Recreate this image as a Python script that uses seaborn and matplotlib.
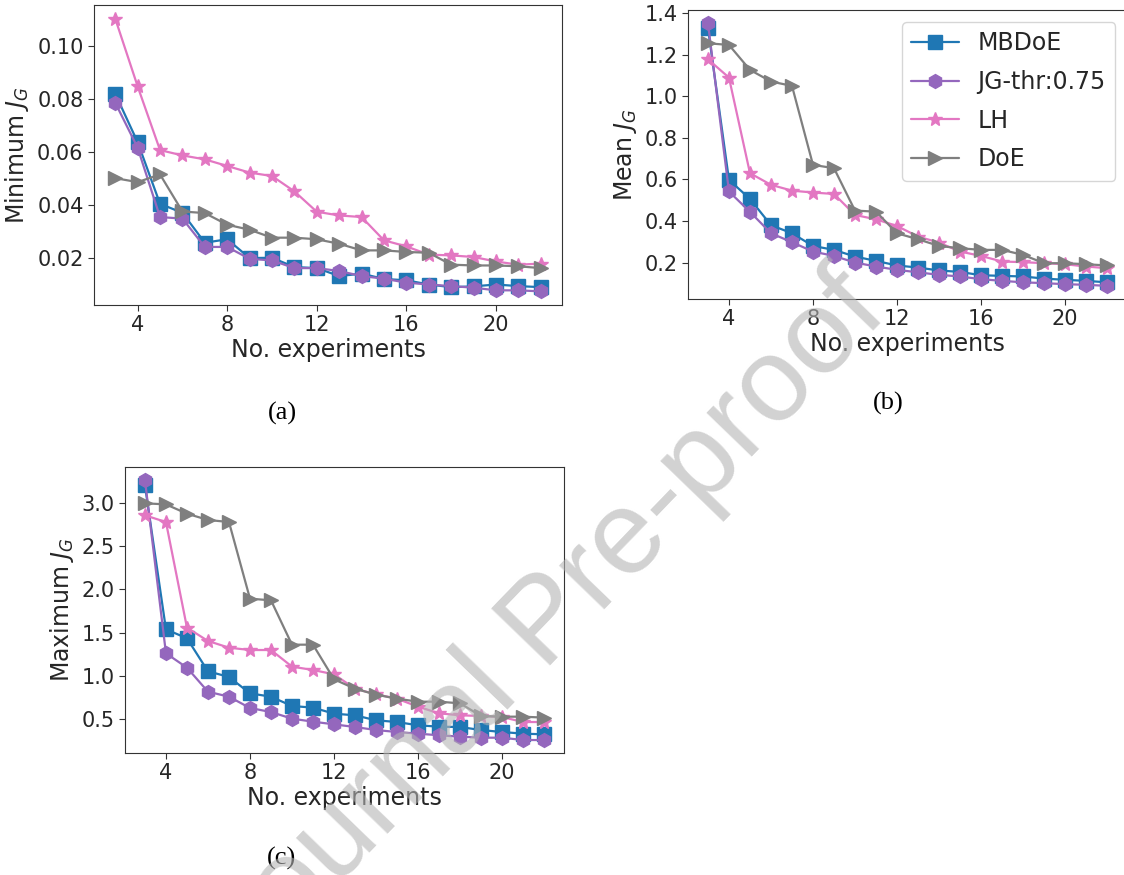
import matplotlib
matplotlib.use('Agg')
import matplotlib.pyplot as plt
from matplotlib.ticker import MultipleLocator
import seaborn as sns
import pandas as pd

# Number of experiments (x axis)
n_exp = [3, 4, 5, 6, 7, 8, 9, 10, 11, 12, 13, 14, 15, 16, 17, 18, 19, 20, 21, 22]

methods = ['MBDoE', 'JG-thr:0.75', 'LH', 'DoE']
colors = ['#1f77b4', '#9467bd', '#e377c2', '#7f7f7f']
markers = ['s', 'h', '*', '>']

# (a) Minimum J_G
min_mbdoe = [0.0821, 0.0638, 0.0405, 0.0371, 0.0258, 0.0271, 0.0200, 0.0201, 0.0166, 0.0162,
             0.0132, 0.0141, 0.0121, 0.0116, 0.0100, 0.0090, 0.0093, 0.0100, 0.0094, 0.0090]
min_jg = [0.0787, 0.0617, 0.0355, 0.0349, 0.0242, 0.0242, 0.0197, 0.0191, 0.0162, 0.0162,
          0.0151, 0.0132, 0.0122, 0.0107, 0.0100, 0.0094, 0.0088, 0.0078, 0.0078, 0.0074]
min_lh = [0.1105, 0.0849, 0.0608, 0.0588, 0.0573, 0.0548, 0.0523, 0.0510, 0.0452, 0.0375,
          0.0361, 0.0355, 0.0267, 0.0244, 0.0213, 0.0210, 0.0204, 0.0187, 0.0175, 0.0179]
min_doe = [0.0502, 0.0487, 0.0516, 0.0376, 0.0370, 0.0326, 0.0307, 0.0277, 0.0277, 0.0271,
           0.0254, 0.0229, 0.0229, 0.0223, 0.0220, 0.0175, 0.0172, 0.0172, 0.0169, 0.0162]

# (b) Mean J_G
mean_mbdoe = [1.328, 0.598, 0.506, 0.380, 0.341, 0.280, 0.261, 0.229, 0.208, 0.186,
              0.176, 0.162, 0.155, 0.139, 0.136, 0.133, 0.123, 0.117, 0.112, 0.105]
mean_jg = [1.352, 0.542, 0.444, 0.341, 0.298, 0.253, 0.232, 0.200, 0.181, 0.165,
           0.153, 0.141, 0.133, 0.120, 0.112, 0.105, 0.101, 0.096, 0.093, 0.088]
mean_lh = [1.178, 1.090, 0.630, 0.574, 0.546, 0.537, 0.530, 0.429, 0.408, 0.376,
           0.325, 0.296, 0.253, 0.232, 0.205, 0.202, 0.197, 0.192, 0.181, 0.173]
mean_doe = [1.255, 1.247, 1.127, 1.071, 1.050, 0.670, 0.654, 0.450, 0.445, 0.341,
            0.312, 0.280, 0.269, 0.261, 0.261, 0.237, 0.197, 0.197, 0.192, 0.186]

# (c) Maximum J_G
max_mbdoe = [3.209, 1.537, 1.433, 1.050, 0.984, 0.794, 0.755, 0.647, 0.628, 0.558,
             0.539, 0.481, 0.461, 0.423, 0.407, 0.403, 0.368, 0.345, 0.326, 0.318]
max_jg = [3.271, 1.259, 1.092, 0.813, 0.755, 0.624, 0.577, 0.500, 0.465, 0.434,
          0.403, 0.368, 0.345, 0.326, 0.307, 0.291, 0.279, 0.279, 0.252, 0.252]
max_lh = [2.861, 2.783, 1.557, 1.402, 1.324, 1.297, 1.297, 1.104, 1.065, 1.015,
          0.848, 0.783, 0.732, 0.639, 0.562, 0.539, 0.531, 0.519, 0.461, 0.461]
max_doe = [3.000, 2.988, 2.880, 2.807, 2.783, 1.893, 1.874, 1.359, 1.359, 0.957,
           0.848, 0.779, 0.732, 0.697, 0.697, 0.678, 0.531, 0.523, 0.523, 0.512]

panels = [
    ('Minimum $J_G$', [min_mbdoe, min_jg, min_lh, min_doe], 0.02),
    ('Mean $J_G$', [mean_mbdoe, mean_jg, mean_lh, mean_doe], 0.2),
    ('Maximum $J_G$', [max_mbdoe, max_jg, max_lh, max_doe], 0.5),
]

sns.set_style('ticks')
plt.rcParams['font.family'] = 'DejaVu Sans'
plt.rcParams['axes.edgecolor'] = '#333333'

fig = plt.figure(figsize=(11.24, 8.75), dpi=100)
# axes boxes in figure fractions: (a) top-left, (b) top-right, (c) bottom-left
boxes = [
    [0.0836, 0.6514, 0.4164, 0.3429],
    [0.6121, 0.6583, 0.3906, 0.3303],
    [0.1112, 0.1394, 0.3906, 0.3269],
]

axes = []
for (ylabel, series, ystep), box in zip(panels, boxes):
    ax = fig.add_axes(box)
    for name, vals, c, m in zip(methods, series, colors, markers):
        df = pd.DataFrame({'n': n_exp, 'J': vals})
        sns.lineplot(data=df, x='n', y='J', ax=ax, color=c, marker=m, markersize=10,
                     markeredgecolor=c, markeredgewidth=1, linewidth=1.6,
                     label=name, legend=False)
    ax.set_xticks([4, 8, 12, 16, 20])
    ax.yaxis.set_major_locator(MultipleLocator(ystep))
    ax.set_xlabel('No. experiments', fontsize=17, labelpad=2)
    ax.set_ylabel(ylabel, fontsize=17, labelpad=4)
    ax.tick_params(labelsize=15, length=4, color='#333333')
    axes.append(ax)

axes[1].legend(loc='upper right', fontsize=17, handlelength=2.0, labelspacing=0.62)

# panel captions
cap = dict(fontsize=19, family='Liberation Serif', ha='center', va='center', color='black')
fig.text(282 / 1124, 1 - 413 / 875, '(a)', **cap)
fig.text(888 / 1124, 1 - 403 / 875, '(b)', **cap)
fig.text(282 / 1124, 1 - 858 / 875, '(c)', **cap)

# watermark
fig.text(0.4867, 0.2863, 'Journal Pre-proof', rotation=46, rotation_mode='anchor',
         fontsize=86, family='Liberation Sans', color='#b4b4b4', alpha=0.6,
         ha='center', va='center', zorder=10)

fig.savefig('out.png', dpi=100, facecolor='white')
